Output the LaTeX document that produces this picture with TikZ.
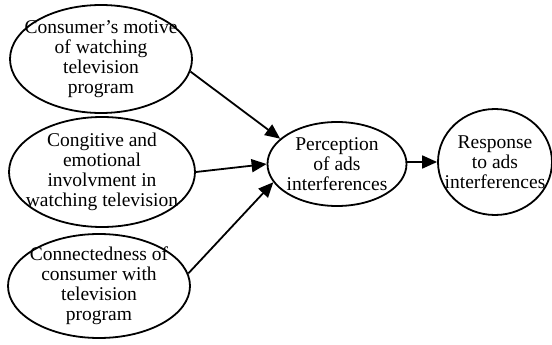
\documentclass[tikz,border=0pt]{standalone}
\usepackage{fontspec}
\setmainfont{Liberation Serif}
\usetikzlibrary{shapes.geometric,arrows.meta}
\begin{document}
\begin{tikzpicture}[x=1pt,y=-1pt,
  ell/.style={ellipse,draw,line width=1.8pt,inner sep=0pt},
  lbl/.style={align=center,inner sep=0pt,font=\fontsize{19.5}{20}\selectfont},
  conn/.style={line width=1.8pt,-{Triangle[length=15pt,width=13pt]}}]
\useasboundingbox (0,0) rectangle (552,345);
\node[ell,minimum width=182pt,minimum height=108pt] (e1) at (101,59) {};
\node[lbl] (t1) at (e1.center) {Consumer's motive\\of watching\\television\\program};
\node[ell,minimum width=186pt,minimum height=110pt] (e2) at (102,172) {};
\node[lbl] (t2) at (e2.center) {Congitive and\\emotional\\involvment in\\watching television};
\node[ell,minimum width=182pt,minimum height=104pt] (e3) at (99,286) {};
\node[lbl] (t3) at (e3.center) {Connectedness of\\consumer with\\television\\program};
\node[ell,minimum width=139pt,minimum height=84pt] (p) at (337,164) {};
\node[lbl] (tp) at (p.center) {Perception\\of ads\\interferences};
\node[ell,minimum width=114pt,minimum height=106pt] (r) at (495,162) {};
\node[lbl] (tr) at (r.center) {Response\\to ads\\interferences};
\draw[conn] (e1.-8) -- (p.156);
\draw[conn] (e2.east) -- (p.180);
\draw[conn] (e3.8) -- (p.196);
\draw[conn] (r.west -| p.east) -- (r.west);
\end{tikzpicture}
\end{document}
